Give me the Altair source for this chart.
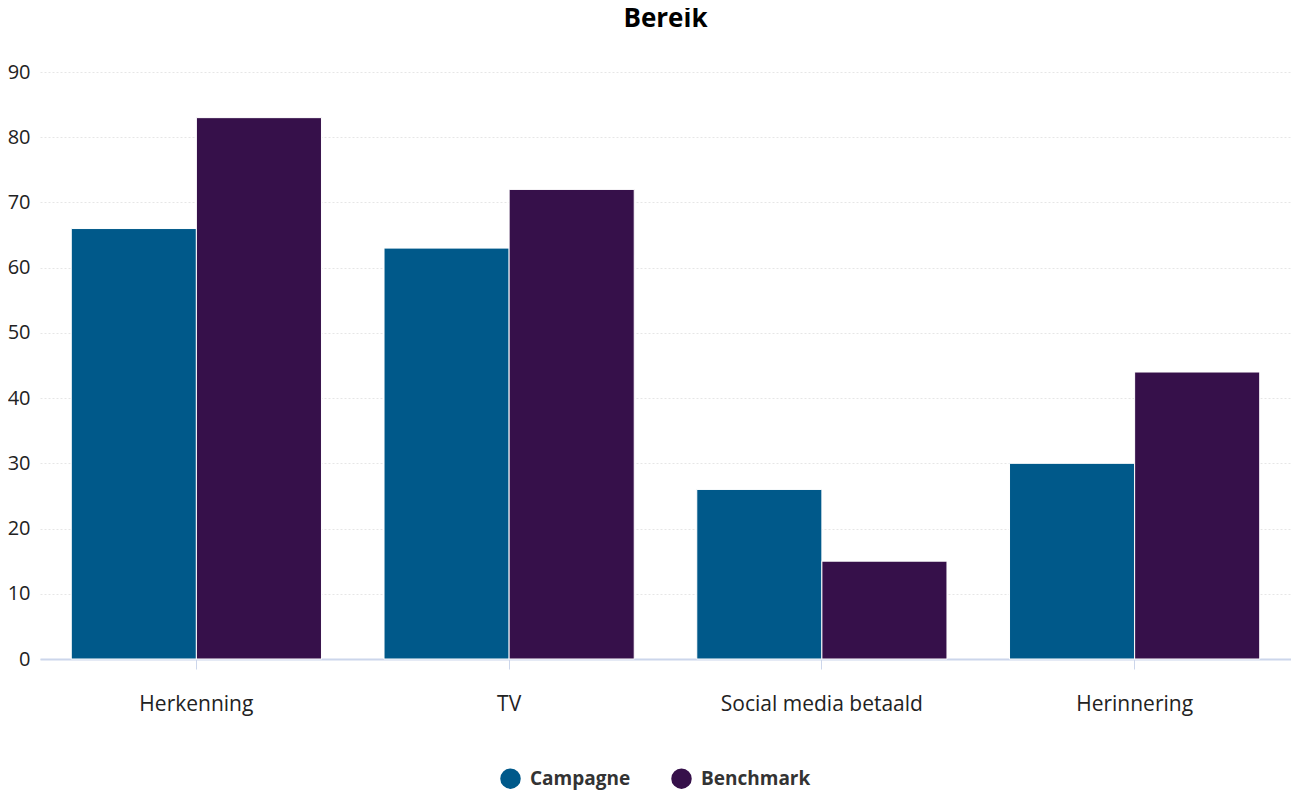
import altair as alt
import pandas as pd

categories = ["Herkenning", "TV", "Social media betaald", "Herinnering"]
series = ["Campagne", "Benchmark"]
campagne = [66, 63, 26, 30]
benchmark = [83, 72, 15, 44]
colors = ["#00598a", "#36104a"]

rows = []
for c, a, b in zip(categories, campagne, benchmark):
    rows.append({"categorie": c, "reeks": series[0], "waarde": a})
    rows.append({"categorie": c, "reeks": series[1], "waarde": b})
df = pd.DataFrame(rows)

FONT = "Open Sans"

chart = alt.Chart(df).mark_bar(stroke="white", strokeWidth=1).encode(
    x=alt.X("categorie:N", sort=categories, title=None,
            scale=alt.Scale(paddingInner=0.2, paddingOuter=0.1),
            axis=alt.Axis(labelAngle=0, labelFontSize=21, labelColor="#222222",
                          labelFont=FONT, labelLimit=400, domainColor="#ccd6eb",
                          domainWidth=2, tickColor="#ccd6eb", tickSize=10, tickWidth=1,
                          labelPadding=24, grid=False)),
    xOffset=alt.XOffset("reeks:N", sort=series),
    y=alt.Y("waarde:Q", title=None,
            scale=alt.Scale(domain=[0, 90], nice=False),
            axis=alt.Axis(values=list(range(0, 100, 10)), labelFontSize=20,
                          labelColor="#222222", labelFont=FONT, domain=False,
                          ticks=False, labelPadding=10, gridColor="#e6e6e6",
                          gridDash=[2, 2], gridWidth=1)),
    color=alt.Color("reeks:N", sort=series,
                    scale=alt.Scale(domain=series, range=colors),
                    legend=alt.Legend(title=None, orient="none", legendX=460, legendY=696,
                                      symbolType="circle", symbolSize=420,
                                      symbolStrokeWidth=0, labelOffset=9,
                                      labelFontSize=19, labelFontWeight="bold",
                                      labelColor="#333333", labelFont=FONT,
                                      columnPadding=40, direction="horizontal")),
).properties(
    width=1251,
    height=587,
    title=alt.TitleParams("Bereik", fontSize=26, fontWeight="bold", font=FONT,
                          color="#000000", anchor="middle", offset=30),
    autosize=alt.AutoSizeParams(type="none"),
    padding={"left": 32, "top": 64, "right": 0, "bottom": 133},
).configure_view(stroke=None)

chart.save("out.html", embed_options={"renderer": "svg", "actions": False})
